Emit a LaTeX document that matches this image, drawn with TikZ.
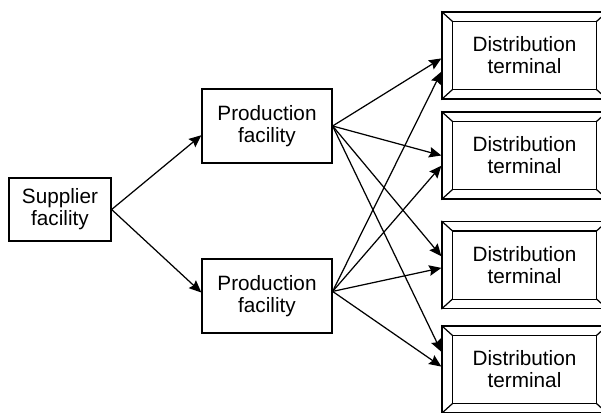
\documentclass[tikz,border=0pt]{standalone}
\usepackage{fontspec}
\setmainfont{Liberation Sans}
\usetikzlibrary{arrows.meta}

\begin{document}
\begin{tikzpicture}[
  x=0.02cm,y=-0.02cm,
  >={Stealth[length=7pt,width=6pt,inset=1pt]},
  every node/.style={font=\fontsize{11.8}{12.5}\selectfont,align=center},
  box/.style={draw,line width=0.7pt,inner sep=0pt},
  term/.style={box,minimum width=165*0.02cm,minimum height=87*0.02cm},
  arr/.style={->,line width=0.7pt}
]
\useasboundingbox (0,0) rectangle (601,412);
\clip (0,0) rectangle (601,412);

\node[box,minimum width=102*0.02cm,minimum height=63*0.02cm] (sup) at (60,209.5) {Supplier\\facility};

\node[box,minimum width=130*0.02cm,minimum height=74*0.02cm] (pf1) at (267,126) {Production\\facility};
\node[box,minimum width=130*0.02cm,minimum height=74*0.02cm] (pf2) at (267,296) {Production\\facility};

\node[term] (t1) at (524.5,55.5) {Distribution\\terminal};
\node[term] (t2) at (524.5,155.5) {Distribution\\terminal};
\node[term] (t3) at (524.5,265) {Distribution\\terminal};
\node[term] (t4) at (524.5,369.5) {Distribution\\terminal};

% bevelled frame of the terminals
\foreach \t in {t1,t2,t3,t4} {
  \draw[line width=0.7pt] ([shift={(11,10)}]\t.north west) rectangle ([shift={(-11,-10)}]\t.south east);
  \draw[line width=0.7pt] (\t.north west) -- ([shift={(11,10)}]\t.north west);
  \draw[line width=0.7pt] (\t.north east) -- ([shift={(-11,10)}]\t.north east);
  \draw[line width=0.7pt] (\t.south west) -- ([shift={(11,-10)}]\t.south west);
  \draw[line width=0.7pt] (\t.south east) -- ([shift={(-11,-10)}]\t.south east);
}

\draw[arr] (sup.east) -- (pf1.188);
\draw[arr] (sup.east) -- (pf2.177);

\foreach \t/\a/\b in {t1/182/191,t2/180/187,t3/174/182,t4/168/178} {
  \draw[arr] (pf1.east) -- (\t.\a);
  \draw[arr] (pf2.4) -- (\t.\b);
}

\end{tikzpicture}
\end{document}
